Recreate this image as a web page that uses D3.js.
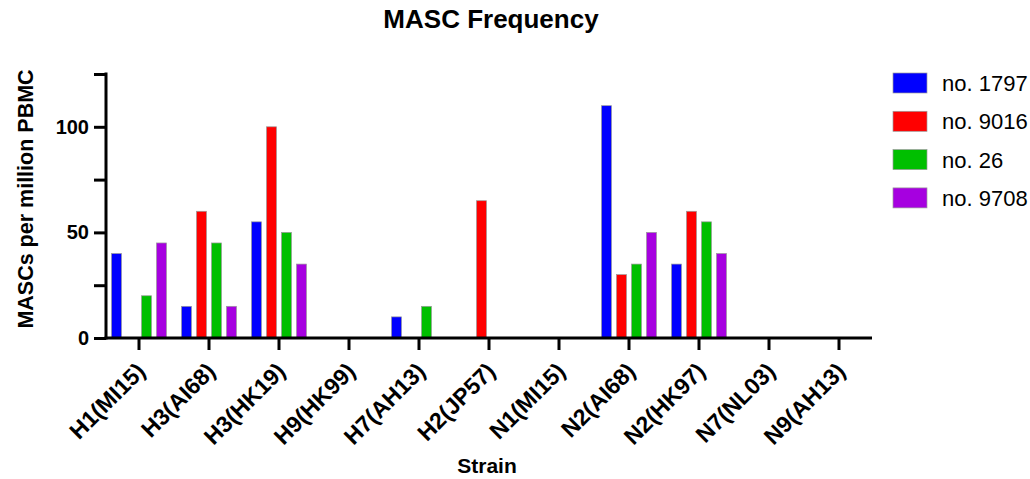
<!DOCTYPE html>
<html>
<head>
<meta charset="utf-8">
<script src="https://cdn.jsdelivr.net/npm/d3@7"></script>
<style>
  body { margin: 0; background: #fff; }
  text { font-family: "Liberation Sans", Arial, sans-serif; }
</style>
</head>
<body>
<div id="container"></div>
<script>
const strains = ["H1(MI15)", "H3(AI68)", "H3(HK19)", "H9(HK99)", "H7(AH13)", "H2(JP57)",
                 "N1(MI15)", "N2(AI68)", "N2(HK97)", "N7(NL03)", "N9(AH13)"];
const seriesNames = ["no. 1797", "no. 9016", "no. 26", "no. 9708"];
const seriesColors = ["#0000ff", "#ff0000", "#00bf00", "#a600e0"];

// values per strain, same order as strains
const no1797 = [40, 15, 55, 0, 10, 0, 0, 110, 35, 0, 0];
const no9016 = [0, 60, 100, 0, 0, 65, 0, 30, 60, 0, 0];
const no26   = [20, 45, 50, 0, 15, 0, 0, 35, 55, 0, 0];
const no9708 = [45, 15, 35, 0, 0, 0, 0, 50, 40, 0, 0];
const seriesValues = [no1797, no9016, no26, no9708];

const yTicks = [0, 25, 50, 75, 100, 125];
const yLabels = [0, 50, 100];

const width = 1030, height = 479;
const plot = { left: 106, right: 872, top: 74, bottom: 338 };

const svg = d3.select("#container")
  .append("svg")
  .attr("width", width)
  .attr("height", height);

const x0 = d3.scaleBand()
  .domain(strains)
  .range([104, 874])
  .padding(0);

const x1 = d3.scaleBand()
  .domain(seriesNames)
  .range([5, x0.bandwidth() - 5])
  .paddingInner(1 / 3)
  .paddingOuter(1 / 6);

const y = d3.scaleLinear()
  .domain([0, 125])
  .range([plot.bottom, plot.top]);

const color = d3.scaleOrdinal().domain(seriesNames).range(seriesColors);

// flatten for drawing
const bars = [];
strains.forEach((s, i) => {
  seriesNames.forEach((n, j) => {
    bars.push({ strain: s, series: n, value: seriesValues[j][i] });
  });
});

svg.append("g")
  .selectAll("rect")
  .data(bars.filter(d => d.value > 0))
  .enter()
  .append("rect")
  .attr("x", d => x0(d.strain) + x1(d.series))
  .attr("y", d => y(d.value))
  .attr("width", x1.bandwidth())
  .attr("height", d => y(0) - y(d.value))
  .attr("fill", d => color(d.series))
  .attr("stroke", "#9a9a9a")
  .attr("stroke-width", 0.7);

// y axis
const yAxis = svg.append("g")
  .attr("transform", `translate(${plot.left},0)`)
  .call(d3.axisLeft(y).tickValues(yTicks).tickSize(12).tickPadding(5)
    .tickFormat(d => yLabels.includes(d) ? d : ""))
  .attr("font-size", 20)
  .attr("font-weight", "bold")
  .attr("font-family", "Liberation Sans, Arial, sans-serif");
yAxis.select(".domain").attr("stroke-width", 3).attr("d", `M0,${plot.top - 1.5}V${plot.bottom + 1.5}`);
yAxis.selectAll(".tick line").attr("stroke-width", 3);
yAxis.selectAll(".tick text").attr("fill", "#000");

// x axis
const xAxis = svg.append("g")
  .attr("transform", `translate(0,${plot.bottom})`)
  .call(d3.axisBottom(x0).tickSize(12).tickSizeOuter(0))
  .attr("font-size", 23)
  .attr("font-weight", "bold")
  .attr("font-family", "Liberation Sans, Arial, sans-serif");
xAxis.select(".domain").attr("stroke-width", 3).attr("d", `M${plot.left - 1.5},0H${plot.right}`);
xAxis.selectAll(".tick line").attr("stroke-width", 3);
xAxis.selectAll(".tick text")
  .attr("fill", "#000")
  .attr("text-anchor", "end")
  .attr("x", 0)
  .attr("y", 0)
  .attr("dy", "0.35em")
  .attr("transform", "translate(2,29) rotate(-45)");

// title
svg.append("text")
  .attr("x", 491)
  .attr("y", 28)
  .attr("text-anchor", "middle")
  .style("font-size", "26px")
  .style("font-weight", "bold")
  .text("MASC Frequency");

// axis titles
svg.append("text")
  .attr("x", 487)
  .attr("y", 473)
  .attr("text-anchor", "middle")
  .style("font-size", "21px")
  .style("font-weight", "bold")
  .text("Strain");

svg.append("text")
  .attr("transform", "translate(33,199) rotate(-90)")
  .attr("text-anchor", "middle")
  .style("font-size", "21.5px")
  .style("font-weight", "bold")
  .text("MASCs per million PBMC");

// legend
const legend = svg.append("g")
  .selectAll("g")
  .data(seriesNames)
  .enter()
  .append("g")
  .attr("transform", (d, i) => `translate(893,${73 + i * 38.3})`);

legend.append("rect")
  .attr("width", 34)
  .attr("height", 20)
  .attr("fill", d => color(d))
  .attr("stroke", "#9a9a9a")
  .attr("stroke-width", 0.7);

legend.append("text")
  .attr("x", 49)
  .attr("y", 18)
  .style("font-size", "22px")
  .text(d => d);
</script>
</body>
</html>
